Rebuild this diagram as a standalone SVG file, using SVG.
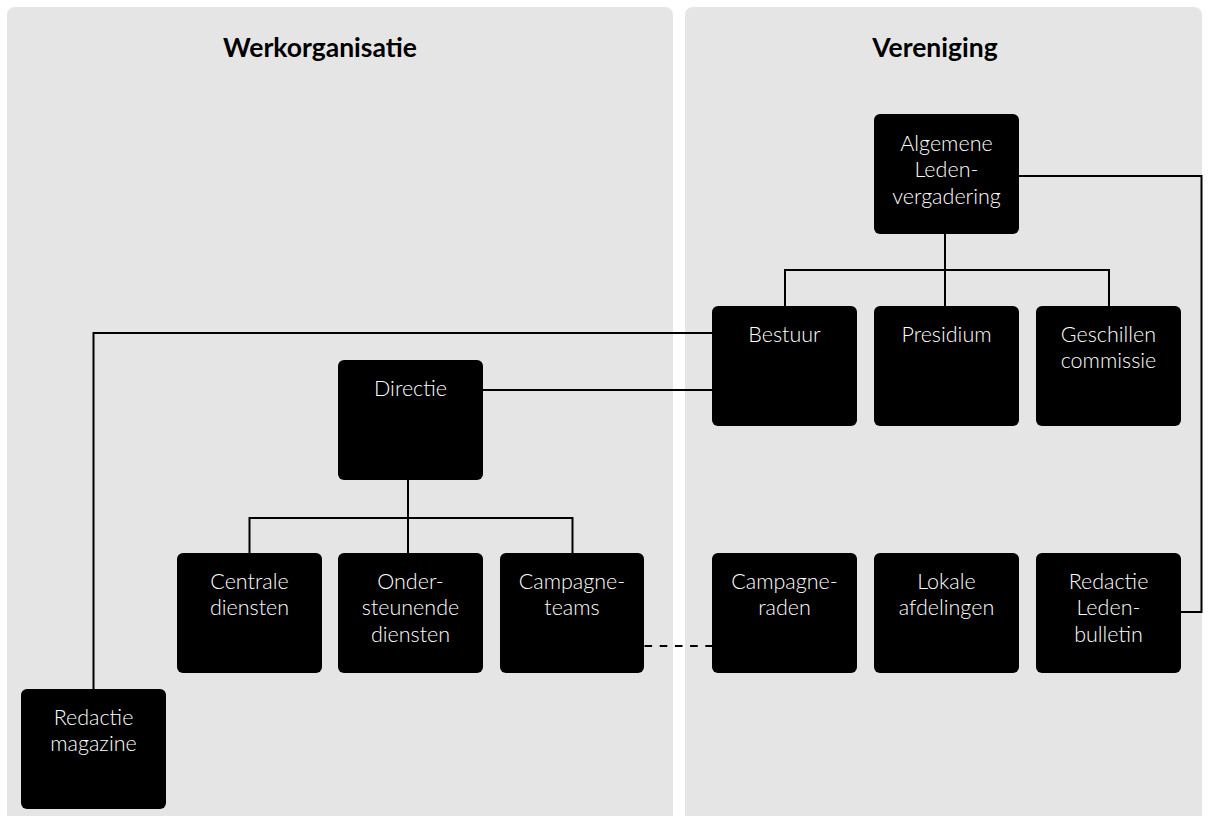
<svg xmlns="http://www.w3.org/2000/svg" width="1209" height="816" viewBox="0 0 1209 816">
  <style>
    .panel { fill: #e5e5e5; }
    .title { font-family: Lato, "Liberation Sans", sans-serif; font-weight: bold; font-size: 26.5px; fill: #000; text-anchor: middle; }
    .box { fill: #000; }
    .lbl { font-family: Lato, "Liberation Sans", sans-serif; font-weight: 300; font-size: 21.5px; fill: #fff; text-anchor: middle; }
    .conn { fill: none; stroke: #000; stroke-width: 2; }
    .dash { stroke-dasharray: 7.6 7.6; }
  </style>
  <rect width="1209" height="816" fill="#fff"/>
  <g id="panels">
    <rect class="panel" x="7" y="7" width="666" height="830" rx="8"/>
    <rect class="panel" x="685" y="7" width="517" height="830" rx="8"/>
    <text class="title" x="320" y="57">Werkorganisatie</text>
    <text class="title" x="935" y="57">Vereniging</text>
  </g>
  <g id="connectors">
    <path class="conn" d="M945 234 V306 M785 306 V270 H1109 V306"/>
    <path class="conn" d="M1019 176 H1201.5 V612 H1181"/>
    <path class="conn" d="M712 333 H93.5 V689"/>
    <path class="conn" d="M483 390 H712"/>
    <path class="conn" d="M408 480 V553 M249.5 553 V518 H572.5 V553"/>
    <path class="conn dash" d="M644.5 646 H712"/>
  </g>
  <g id="n-alv">
    <rect class="box" x="874" y="114" width="145" height="120" rx="6"/>
    <text class="lbl" x="946.5" y="151">Algemene</text>
    <text class="lbl" x="946.5" y="177">Leden-</text>
    <text class="lbl" x="946.5" y="204">vergadering</text>
  </g>
  <g id="n-bestuur">
    <rect class="box" x="712" y="306" width="145" height="120" rx="6"/>
    <text class="lbl" x="784.5" y="342">Bestuur</text>
  </g>
  <g id="n-presidium">
    <rect class="box" x="874" y="306" width="145" height="120" rx="6"/>
    <text class="lbl" x="946.5" y="342">Presidium</text>
  </g>
  <g id="n-geschillen">
    <rect class="box" x="1036" y="306" width="145" height="120" rx="6"/>
    <text class="lbl" x="1108.5" y="342">Geschillen</text>
    <text class="lbl" x="1108.5" y="368">commissie</text>
  </g>
  <g id="n-directie">
    <rect class="box" x="338" y="360" width="145" height="120" rx="6"/>
    <text class="lbl" x="410.5" y="396">Directie</text>
  </g>
  <g id="n-centrale">
    <rect class="box" x="177" y="553" width="145" height="120" rx="6"/>
    <text class="lbl" x="249.5" y="589">Centrale</text>
    <text class="lbl" x="249.5" y="615">diensten</text>
  </g>
  <g id="n-ondersteunende">
    <rect class="box" x="338" y="553" width="145" height="120" rx="6"/>
    <text class="lbl" x="410.5" y="589">Onder-</text>
    <text class="lbl" x="410.5" y="615">steunende</text>
    <text class="lbl" x="410.5" y="642">diensten</text>
  </g>
  <g id="n-campagneteams">
    <rect class="box" x="500" y="553" width="144" height="120" rx="6"/>
    <text class="lbl" x="572" y="589">Campagne-</text>
    <text class="lbl" x="572" y="615">teams</text>
  </g>
  <g id="n-campagneraden">
    <rect class="box" x="712" y="553" width="145" height="120" rx="6"/>
    <text class="lbl" x="784.5" y="589">Campagne-</text>
    <text class="lbl" x="784.5" y="615">raden</text>
  </g>
  <g id="n-lokale">
    <rect class="box" x="874" y="553" width="145" height="120" rx="6"/>
    <text class="lbl" x="946.5" y="589">Lokale</text>
    <text class="lbl" x="946.5" y="615">afdelingen</text>
  </g>
  <g id="n-ledenbulletin">
    <rect class="box" x="1036" y="553" width="145" height="120" rx="6"/>
    <text class="lbl" x="1108.5" y="589">Redactie</text>
    <text class="lbl" x="1108.5" y="615">Leden-</text>
    <text class="lbl" x="1108.5" y="642">bulletin</text>
  </g>
  <g id="n-magazine">
    <rect class="box" x="21" y="689" width="145" height="120" rx="6"/>
    <text class="lbl" x="93.5" y="725">Redactie</text>
    <text class="lbl" x="93.5" y="751">magazine</text>
  </g>
</svg>
